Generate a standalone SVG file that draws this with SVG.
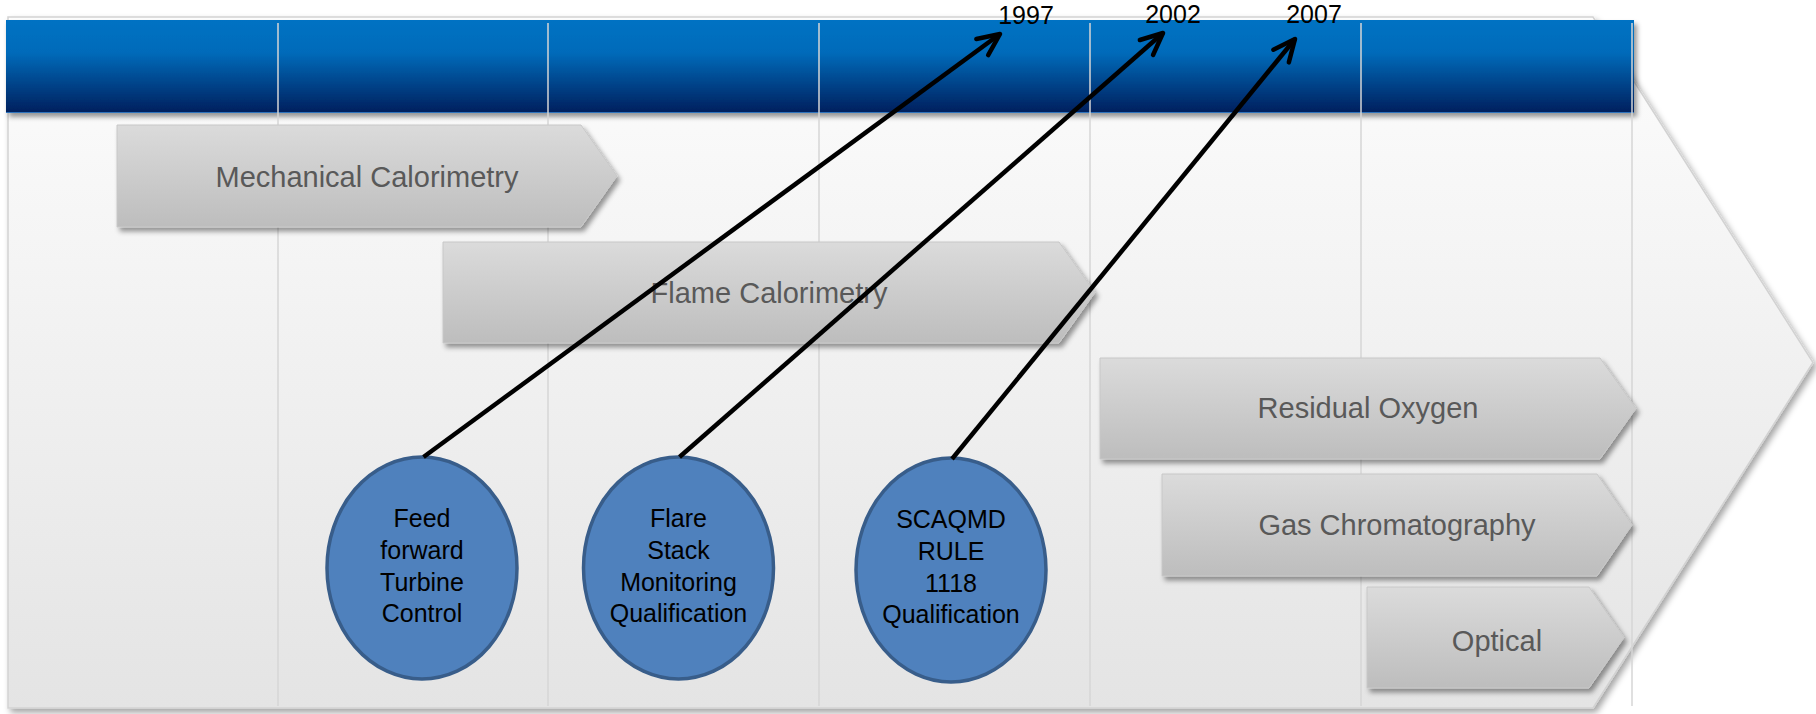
<svg xmlns="http://www.w3.org/2000/svg" width="1816" height="714" viewBox="0 0 1816 714">
  <defs>
    <linearGradient id="bgGrad" gradientUnits="userSpaceOnUse" x1="0" y1="17" x2="0" y2="708">
      <stop offset="0" stop-color="#fdfdfd"/>
      <stop offset="1" stop-color="#e4e4e4"/>
    </linearGradient>
    <linearGradient id="blueGrad" x1="0" y1="0" x2="0" y2="1">
      <stop offset="0" stop-color="#0072c3"/>
      <stop offset="0.35" stop-color="#006bba"/>
      <stop offset="1" stop-color="#001f5d"/>
    </linearGradient>
    <linearGradient id="barGrad" x1="0" y1="0" x2="0" y2="1">
      <stop offset="0" stop-color="#dbdbdb"/>
      <stop offset="1" stop-color="#bdbdbd"/>
    </linearGradient>
    <filter id="shadow" x="-5%" y="-20%" width="115%" height="150%">
      <feDropShadow dx="3" dy="4" stdDeviation="2.5" flood-color="#000" flood-opacity="0.4"/>
    </filter>
    <filter id="shadowBig" x="-2%" y="-5%" width="105%" height="110%">
      <feDropShadow dx="3" dy="4" stdDeviation="3" flood-color="#000" flood-opacity="0.35"/>
    </filter>
    <marker id="arrow" markerUnits="userSpaceOnUse" orient="auto" markerWidth="40" markerHeight="40" refX="0" refY="0" viewBox="-30 -20 40 40" overflow="visible">
      <path d="M -22,-10 L 0,0 L -22,10" fill="none" stroke="#000" stroke-width="4.5" stroke-linecap="round" stroke-linejoin="round"/>
    </marker>
    <style>
      .bar { fill: url(#barGrad); stroke: #c8c8c8; stroke-width: 1; filter: url(#shadow); }
      .barText { font-family: "Liberation Sans", Arial, sans-serif; font-size: 29px; fill: #595959; text-anchor: middle; }
      .divider { stroke: #d6d6d6; stroke-width: 1.5; }
      .oval { fill: #4f81bd; stroke: #385d8a; stroke-width: 3.5; }
      .ovalText { font-family: "Liberation Sans", Arial, sans-serif; font-size: 25px; fill: #000; text-anchor: middle; }
      .year { font-family: "Liberation Sans", Arial, sans-serif; font-size: 25px; fill: #000; text-anchor: middle; }
      .conn { stroke: #000; stroke-width: 4.5; fill: none; marker-end: url(#arrow); }
    </style>
  </defs>

  <rect x="0" y="0" width="1816" height="714" fill="#ffffff"/>

  <g id="background">
    <polygon points="8,17 1593,17 1813,362.5 1593,708 8,708" fill="url(#bgGrad)" stroke="#d2d2d2" stroke-width="1.5" filter="url(#shadowBig)"/>
  </g>

  <g id="header">
    <rect x="6" y="20" width="1628" height="93" fill="url(#blueGrad)" filter="url(#shadow)"/>
    <line x1="6" y1="112.5" x2="1634" y2="112.5" stroke="#2f74bd" stroke-width="1"/>
  </g>

  <g id="dividers">
    <line class="divider" x1="278" y1="23" x2="278" y2="706"/>
    <line class="divider" x1="548" y1="23" x2="548" y2="706"/>
    <line class="divider" x1="819" y1="23" x2="819" y2="706"/>
    <line class="divider" x1="1090" y1="23" x2="1090" y2="706"/>
    <line class="divider" x1="1361" y1="23" x2="1361" y2="706"/>
    <line class="divider" x1="1632" y1="23" x2="1632" y2="706"/>
  </g>

  <g id="mechanical-calorimetry">
    <polygon class="bar" points="117,125 581,125 617,176 581,227 117,227"/>
    <text class="barText" x="367" y="187">Mechanical Calorimetry</text>
  </g>
  <g id="flame-calorimetry">
    <polygon class="bar" points="443,242 1059,242 1095,292.5 1059,343 443,343"/>
    <text class="barText" x="769" y="303">Flame Calorimetry</text>
  </g>
  <g id="residual-oxygen">
    <polygon class="bar" points="1100,358 1600,358 1636,408.5 1600,459 1100,459"/>
    <text class="barText" x="1368" y="418">Residual Oxygen</text>
  </g>
  <g id="gas-chromatography">
    <polygon class="bar" points="1162,474 1597,474 1632,525 1597,576 1162,576"/>
    <text class="barText" x="1397" y="535">Gas Chromatography</text>
  </g>
  <g id="optical">
    <polygon class="bar" points="1367,587 1589,587 1624,637.5 1589,688 1367,688"/>
    <text class="barText" x="1497" y="651">Optical</text>
  </g>

  <g id="feed-forward">
    <ellipse class="oval" cx="422" cy="568" rx="95" ry="111"/>
    <text class="ovalText" x="422" y="527">Feed</text>
    <text class="ovalText" x="422" y="559">forward</text>
    <text class="ovalText" x="422" y="591">Turbine</text>
    <text class="ovalText" x="422" y="622">Control</text>
  </g>
  <g id="flare-stack">
    <ellipse class="oval" cx="678.5" cy="568" rx="95" ry="111"/>
    <text class="ovalText" x="678.5" y="527">Flare</text>
    <text class="ovalText" x="678.5" y="559">Stack</text>
    <text class="ovalText" x="678.5" y="591">Monitoring</text>
    <text class="ovalText" x="678.5" y="622">Qualification</text>
  </g>
  <g id="scaqmd">
    <ellipse class="oval" cx="951" cy="570" rx="95" ry="112"/>
    <text class="ovalText" x="951" y="528">SCAQMD</text>
    <text class="ovalText" x="951" y="560">RULE</text>
    <text class="ovalText" x="951" y="592">1118</text>
    <text class="ovalText" x="951" y="623">Qualification</text>
  </g>

  <g id="connectors">
    <line class="conn" x1="423.5" y1="457" x2="1000" y2="34"/>
    <line class="conn" x1="679.5" y1="457" x2="1163" y2="33"/>
    <line class="conn" x1="952" y1="459" x2="1295" y2="39"/>
  </g>

  <g id="years">
    <text class="year" x="1026" y="24">1997</text>
    <text class="year" x="1173" y="23">2002</text>
    <text class="year" x="1314" y="23">2007</text>
  </g>
</svg>
